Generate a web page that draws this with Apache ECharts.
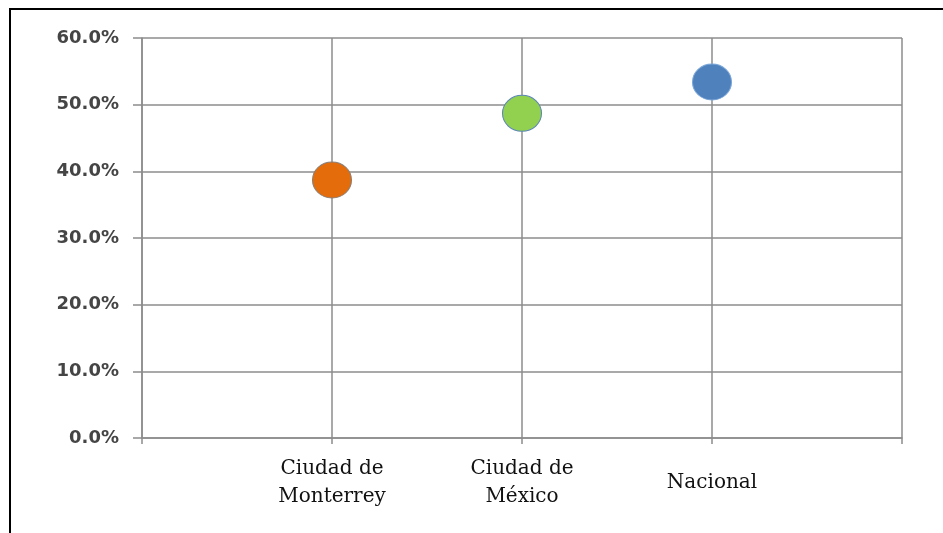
<!DOCTYPE html>
<html>
<head>
<meta charset="utf-8">
<script src="https://cdn.jsdelivr.net/npm/echarts@6/dist/echarts.min.js"></script>
<style>
html,body{margin:0;padding:0;background:#fff;}
#c{width:943px;height:533px;}
</style>
</head>
<body>
<div id="c"></div>
<script>
var categories = ['Ciudad de\nMonterrey', 'Ciudad de\nMéxico', 'Nacional'];
var values = [38.7, 48.7, 53.4];
var pointColors = ['#E46C0A', '#92D050', '#4F81BD'];
var pointBorders = ['#8a7f78', '#5b86b5', '#7aa6d8'];
var yTicks = [0, 10, 20, 30, 40, 50, 60];

var chart = echarts.init(document.getElementById('c'), null, {renderer: 'canvas'});
var data = values.map(function (v, i) {
  return {
    value: [i + 1, v],
    itemStyle: {color: pointColors[i], borderColor: pointBorders[i], borderWidth: 1, opacity: 1}
  };
});
var gridColor = '#8c8c8c';
chart.setOption({
  animation: false,
  backgroundColor: '#ffffff',
  graphic: [{
    type: 'rect',
    shape: {x: 10, y: 9, width: 1000, height: 1000},
    style: {fill: 'none', stroke: '#000', lineWidth: 2},
    silent: true
  }],
  grid: {left: 142, right: 41, top: 38, bottom: 95, containLabel: false},
  xAxis: {
    type: 'value',
    min: 0, max: categories.length + 1, interval: 1,
    axisLine: {show: true, lineStyle: {color: gridColor, width: 1.5}},
    axisTick: {show: true, length: 6, lineStyle: {color: gridColor, width: 1.5}},
    splitLine: {show: true, lineStyle: {color: gridColor, width: 1.5}},
    axisLabel: {
      margin: 45,
      verticalAlign: 'middle',
      fontFamily: 'DejaVu Serif',
      fontSize: 20,
      lineHeight: 28,
      color: '#111111',
      showMinLabel: true, showMaxLabel: true,
      formatter: function (v) { return categories[v - 1] || ''; }
    }
  },
  yAxis: {
    type: 'value',
    min: yTicks[0], max: yTicks[yTicks.length - 1], interval: 10,
    axisLine: {show: true, lineStyle: {color: gridColor, width: 1.5}},
    axisTick: {show: true, length: 9, lineStyle: {color: gridColor, width: 1.5}},
    splitLine: {show: true, lineStyle: {color: gridColor, width: 1.5}},
    axisLabel: {
      margin: 23,
      fontFamily: 'DejaVu Sans',
      fontSize: 18,
      fontWeight: 'bold',
      color: '#454545',
      formatter: function (v) { return v.toFixed(1) + '%'; }
    }
  },
  series: [{
    type: 'scatter',
    symbol: 'circle',
    symbolSize: [39, 36],
    itemStyle: {opacity: 1},
    data: data
  }]
});
</script>
</body>
</html>
